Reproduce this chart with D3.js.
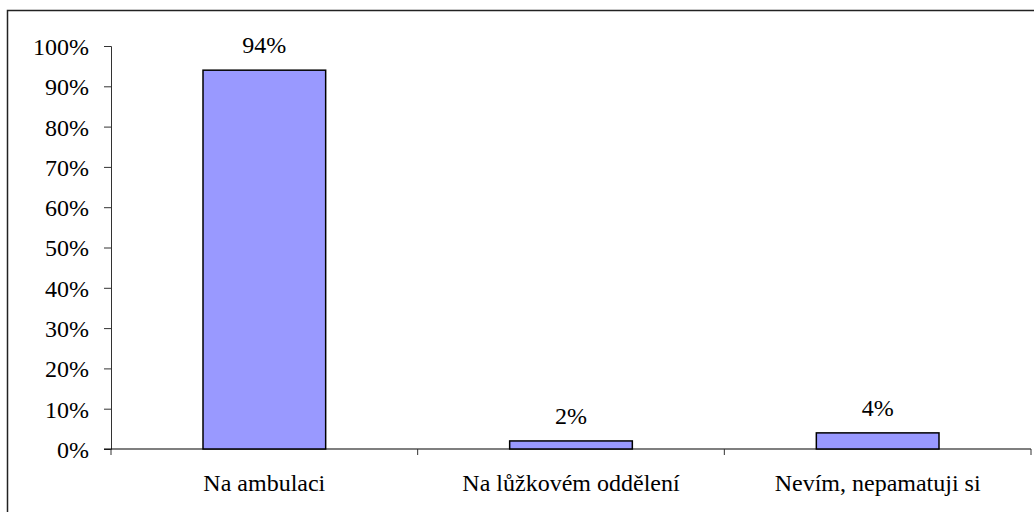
<!DOCTYPE html>
<html><head><meta charset="utf-8">
<script src="https://cdn.jsdelivr.net/npm/d3@7"></script>
</head><body style="margin:0">
<svg id="c" width="1034" height="512" style="font-family:'Liberation Serif'"></svg>
<script>
const categories = ["Na ambulaci", "Na lůžkovém oddělení", "Nevím, nepamatuji si"];
const values = [0.94, 0.02, 0.04];
const valueLabels = ["94%", "2%", "4%"];
const yTicks = [0, 0.1, 0.2, 0.3, 0.4, 0.5, 0.6, 0.7, 0.8, 0.9, 1.0];

const svg = d3.select("#c");
const ff = "\"Liberation Serif\"";
const fs = 24;
const pLeft = 111, pRight = 1031, pTop = 46, pBottom = 449;

svg.append("rect").attr("x", 7.5).attr("y", 10.5).attr("width", 1100).attr("height", 600)
  .attr("fill", "none").attr("stroke", "#222").attr("stroke-width", 1.5);

const x = d3.scaleBand().domain(categories).range([pLeft, pRight]).paddingInner(0.6).paddingOuter(0.3);
const xb = d3.scaleBand().domain(categories).range([pLeft, pRight]);
const y = d3.scaleLinear().domain([0, 1]).range([pBottom, pTop]);

const ya = svg.append("g").attr("transform", `translate(${pLeft},0)`)
  .call(d3.axisLeft(y).tickValues(yTicks).tickFormat(d3.format(".0%")).tickSize(7).tickPadding(15));
ya.attr("font-family", ff).attr("font-size", fs);
ya.select(".domain").attr("stroke", "#333");
ya.selectAll(".tick line").attr("stroke", "#333");
ya.selectAll("text").style("font-family", ff).attr("font-size", fs).attr("fill", "#000").attr("dy", "0.35em");

const xa = svg.append("g").attr("transform", `translate(0,${pBottom})`);
xa.append("line").attr("x1", pLeft - 7).attr("x2", pRight).attr("y1", 0).attr("y2", 0).attr("stroke", "#000").attr("stroke-width", 1.2);
const bounds = categories.map(c => xb(c)).concat([xb(categories[categories.length - 1]) + xb.bandwidth()]);
xa.selectAll("line.t").data(bounds).join("line").attr("class", "t")
  .attr("x1", d => d).attr("x2", d => d).attr("y1", 0).attr("y2", 6).attr("stroke", "#333");

svg.selectAll("text.cat").data(categories).join("text").attr("class", "cat")
  .attr("x", d => xb(d) + xb.bandwidth() / 2).attr("y", pBottom + 42)
  .attr("text-anchor", "middle").style("font-family", ff).attr("font-size", fs).attr("fill", "#000")
  .text(d => d);

svg.selectAll("rect.bar").data(values).join("rect").attr("class", "bar")
  .attr("x", (d, i) => x(categories[i])).attr("width", x.bandwidth())
  .attr("y", d => y(d)).attr("height", d => y(0) - y(d))
  .attr("fill", "#9999FF").attr("stroke", "#000").attr("stroke-width", 1.5);

svg.selectAll("text.vl").data(values).join("text").attr("class", "vl")
  .attr("x", (d, i) => x(categories[i]) + x.bandwidth() / 2).attr("y", d => y(d) - 17)
  .attr("text-anchor", "middle").style("font-family", ff).attr("font-size", fs).attr("fill", "#000")
  .text((d, i) => valueLabels[i]);
</script>
</body></html>
